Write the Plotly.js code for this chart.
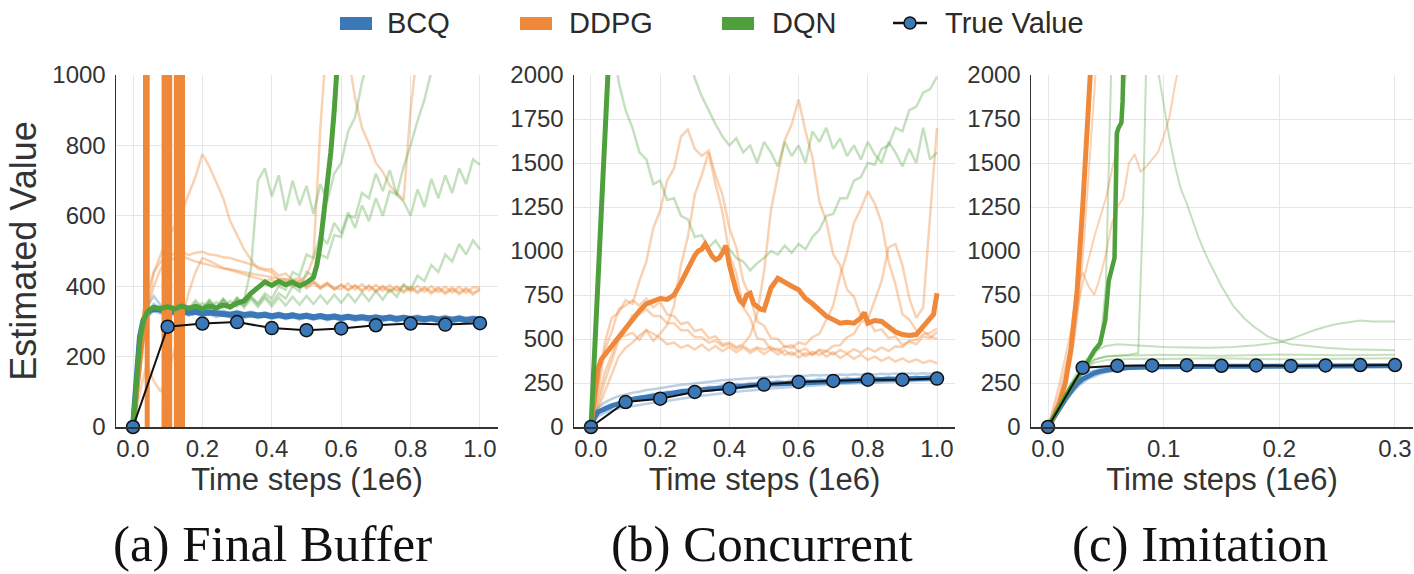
<!DOCTYPE html>
<html>
<head>
<meta charset="utf-8">
<script src="https://cdn.plot.ly/plotly-3.0.1.min.js"></script>
<style>html,body{margin:0;padding:0;background:#fff;}#chart{width:1414px;height:574px;}</style>
</head>
<body>
<div id="chart"></div>
<script>
// ---------------- DATA ----------------
const SERIES = ['BCQ', 'DDPG', 'DQN', 'True Value'];
const CAPTIONS = ['(a) Final Buffer', '(b) Concurrent', '(c) Imitation'];
const X_TITLE = 'Time steps (1e6)';
const Y_TITLE = 'Estimated Value';
const XTICKS_AB = [0, 0.2, 0.4, 0.6, 0.8, 1.0];
const XTICKTEXT_AB = ['0.0', '0.2', '0.4', '0.6', '0.8', '1.0'];
const XTICKS_C = [0, 0.1, 0.2, 0.3];
const XTICKTEXT_C = ['0.0', '0.1', '0.2', '0.3'];
const YTICKS_A = [0, 200, 400, 600, 800, 1000];
const YTICKS_BC = [0, 250, 500, 750, 1000, 1250, 1500, 1750, 2000];

// common time grid (1e6 steps)
const GX = [0,0.02,0.04,0.06,0.08,0.1,0.12,0.14,0.16,0.18,
  0.2,0.22,0.24,0.26,0.28,0.3,0.32,0.34,0.36,0.38,
  0.4,0.42,0.44,0.46,0.48,0.5,0.52,0.54,0.56,0.58,
  0.6,0.62,0.64,0.66,0.68,0.7,0.72,0.74,0.76,0.78,
  0.8,0.82,0.84,0.86,0.88,0.9,0.92,0.94,0.96,0.98,
  1.0];

// ===== (a) Final Buffer =====
const aTrueX = [0,0.1,0.2,0.3,0.4,0.5,0.6,0.7,0.8,0.9,1.0];
const aTrueY = [0,285,294,298,281,275,280,289,294,291,295];

const aBcqMeanX = [0,0.01,0.02,0.03,0.04,0.05,0.06,0.07,0.08,
  0.1,0.12,0.14,0.16,0.18,0.2,0.22,0.24,0.26,0.28,
  0.3,0.32,0.34,0.36,0.38,0.4,0.42,0.44,0.46,0.48,
  0.5,0.52,0.54,0.56,0.58,0.6,0.62,0.64,0.66,0.68,
  0.7,0.72,0.74,0.76,0.78,0.8,0.82,0.84,0.86,0.88,
  0.9,0.92,0.94,0.96,0.98,1.0];
const aBcqMeanY = [0,160,255,303,324,333,336,335,333,
  330,327,330,325,327,323,325,322,323,319,
  322,318,320,317,319,315,318,314,317,313,
  316,312,315,311,314,310,313,310,312,309,
  311,308,311,307,310,307,309,306,309,305,
  308,305,308,304,307,305];
const aBcqRun1 = [0,260,340,372,345,338,334,338,331,336,
  328,334,326,331,324,330,322,328,321,326,
  319,325,318,323,317,322,316,321,315,320,
  314,319,313,318,312,318,311,317,312,316,
  311,317,310,315,311,316,309,315,310,314,
  311];
const aBcqRun2 = [0,200,310,330,322,326,318,324,316,322,
  314,321,312,319,311,317,310,315,309,314,
  307,313,306,312,305,311,304,310,303,309,
  302,308,301,307,300,306,300,305,299,304,
  298,304,297,303,297,302,296,302,296,301,
  298];
const aBcqRun3 = [0,230,325,350,335,330,327,331,324,328,
  322,326,320,324,319,323,317,322,316,320,
  315,319,314,318,313,317,312,316,311,315,
  310,314,309,313,309,312,308,312,307,311,
  306,310,306,309,305,309,304,308,304,307,
  305];

const aDdpgMeanX = [0,0.01,0.02,0.03,0.036,0.038,0.04,0.042,
  0.088,0.091,0.093,0.095,0.097,0.099,0.101,0.103,0.105,0.1065,
  0.124,0.126,0.128,0.130,0.132,0.134,0.136,0.138,0.140,0.142,
  0.1435];
const aDdpgMeanY = [0,100,200,280,340,20000,20000,-20000,
  -20000,20000,-20000,20000,-20000,20000,-20000,20000,-20000,20000,
  20000,-20000,20000,-20000,20000,-20000,20000,-20000,20000,-20000,
  20000];
const aDdpgRun1 = [0,150,330,440,490,535,570,610,660,710,
  775,740,695,650,585,545,505,475,450,445,
  440,418,420,405,415,398,412,395,408,392,
  405,388,402,385,400,384,398,383,396,382,
  395,380,394,379,393,378,392,377,391,376,
  390];
const aDdpgRun2 = [0,200,380,440,470,485,492,500,488,495,
  498,490,488,482,480,475,468,462,455,448,
  448,430,436,418,424,405,416,398,410,394,
  392,408,390,406,388,404,387,403,386,402,
  385,401,384,400,383,399,382,398,381,397,
  396];
const aDdpgRun3 = [0,100,180,130,100,150,220,300,380,440,
  480,472,462,452,446,440,433,428,421,416,
  420,402,414,398,410,394,408,392,406,390,
  404,390,403,389,402,388,401,387,400,386,
  399,385,398,384,397,383,396,382,395,381,
  392];
const aDdpgRun4 = [0,180,330,400,450,470,480,485,478,470,
  465,460,455,450,448,445,440,436,432,428,
  425,422,420,418,415,430,480,850,1200,1400,
  1300,1060,935,850,805,750,725,685,665,645,
  900,1100,1250,1350,1500,1600,1700,1800,1900,2000,
  2100];

const aDqnMeanX = [0,0.01,0.02,0.03,0.04,0.05,0.06,0.08,
  0.1,0.12,0.14,0.16,0.18,0.2,0.22,0.24,0.26,0.28,
  0.3,0.32,0.34,0.36,0.38,0.4,0.42,0.44,0.46,0.48,0.5,
  0.52,0.53,0.54,0.55,0.56,0.57,0.58,0.59,0.6];
const aDqnMeanY = [0,150,250,300,325,335,340,336,
  342,335,344,337,343,336,344,338,347,341,
  352,358,380,396,412,402,414,404,412,401,410,
  425,460,520,600,680,780,900,1050,1200];
const aDqnRun1 = [0,220,320,338,342,340,344,338,343,340,
  352,336,355,340,358,342,360,450,700,735,
  655,715,615,700,630,685,605,690,640,720,
  750,840,880,980,1050,1150,1250,1350,1450,1550,
  1650,1700,1750,1800,1850,1900,1950,2000,2050,2100,
  2150];
const aDqnRun2 = [0,210,315,345,330,355,332,358,335,360,
  338,362,340,365,342,368,345,370,348,372,
  352,380,365,400,385,440,430,490,480,545,
  540,600,595,665,650,720,670,730,660,640,
  600,675,625,705,650,715,665,735,690,760,
  745];
const aDqnRun3 = [0,200,310,340,325,350,328,352,330,354,
  332,356,335,360,337,362,339,364,341,366,
  343,368,345,370,347,372,349,374,351,376,
  353,378,355,382,358,386,362,392,370,405,
  390,430,415,460,440,490,470,520,490,530,
  505];
const aDqnRun4 = [0,215,318,336,341,345,340,344,339,346,
  335,358,338,362,342,366,346,370,352,380,
  365,400,390,440,430,490,480,545,520,580,
  550,610,565,630,585,650,600,670,660,740,
  800,870,930,1010,1060,1100,1150,1200,1250,1300,
  1350];

// ===== (b) Concurrent =====
const bTrueX = [0,0.1,0.2,0.3,0.4,0.5,0.6,0.7,0.8,0.9,1.0];
const bTrueY = [0,142,161,199,218,241,256,262,269,269,275];

const bBcqMeanX = [0,0.01,0.02,0.04,0.06,0.08,
  0.1,0.12,0.14,0.16,0.18,0.2,0.22,0.24,0.26,0.28,
  0.3,0.32,0.34,0.36,0.38,0.4,0.42,0.44,0.46,0.48,
  0.5,0.52,0.54,0.56,0.58,0.6,0.62,0.64,0.66,0.68,
  0.7,0.72,0.74,0.76,0.78,0.8,0.82,0.84,0.86,0.88,
  0.9,0.92,0.94,0.96,0.98,1.0];
const bBcqMeanY = [0,55,85,105,120,132,
  150,158,165,172,178,185,190,195,200,204,
  208,212,216,219,222,226,229,232,235,238,
  241,243,246,248,250,252,254,256,258,260,
  262,263,265,266,267,268,269,270,271,272,
  273,274,275,276,277,279];
const bBcqRun1 = [0,110,140,160,175,185,195,200,210,215,
  222,228,232,240,243,248,252,258,260,265,
  268,272,275,278,280,282,286,284,290,288,
  292,290,295,293,296,294,298,296,300,297,
  302,299,303,300,304,301,305,302,306,303,
  305];
const bBcqRun2 = [0,60,80,95,105,112,118,125,130,138,
  142,150,155,160,168,172,178,183,188,192,
  196,200,204,207,212,214,218,221,224,228,
  230,233,236,238,240,243,244,246,248,250,
  251,253,254,256,257,258,260,261,262,264,
  265];
const bBcqRun3 = [0,90,115,130,140,155,160,172,175,188,
  190,200,198,212,210,220,218,230,226,238,
  234,245,240,250,246,256,252,262,256,266,
  260,270,264,274,267,276,270,279,272,281,
  275,283,277,284,279,285,280,287,282,288,
  284];

const bDdpgMeanX = [0,0.01,0.02,0.03,0.04,
  0.06,0.08,0.1,0.12,0.14,0.16,0.18,0.2,0.22,0.24,0.26,0.28,0.3,
  0.31,0.32,0.33,0.34,0.35,0.36,0.37,0.38,0.39,0.4,
  0.41,0.42,0.43,0.44,0.45,0.46,0.47,0.48,0.49,0.5,
  0.52,0.54,0.56,0.58,0.6,0.62,0.64,0.66,0.68,0.7,0.72,0.74,0.76,0.78,
  0.79,0.8,
  0.82,0.84,0.86,0.88,0.9,0.92,0.94,0.96,0.98,
  0.99,1.0];
const bDdpgMeanY = [0,200,330,385,410,
  470,510,560,620,660,700,715,730,725,750,820,900,975,
  1000,1010,1040,1000,970,950,960,990,1030,920,
  840,770,720,700,750,760,700,685,670,665,
  790,845,820,800,780,730,700,665,630,610,590,595,590,620,
  650,590,
  605,600,570,540,525,520,525,570,615,
  640,760];
const bDdpgRun1 = [0,250,480,620,650,720,700,830,940,1130,
  1230,1400,1470,1650,1690,1580,1540,1570,1430,1320,
  1130,1020,830,740,600,575,505,500,455,465,
  430,445,410,435,400,425,392,415,388,410,
  382,400,376,395,372,390,368,384,364,378,
  362];
const bDdpgRun2 = [0,200,440,540,670,690,720,690,730,680,
  710,640,630,585,595,545,555,505,515,470,
  480,455,470,520,640,880,1230,1420,1630,1720,
  1860,1680,1530,1280,1170,980,920,780,740,630,
  620,545,555,505,515,465,485,470,515,505,
  540];
const bDdpgRun3 = [0,150,310,410,510,520,535,495,550,490,
  530,580,690,920,1080,1320,1430,1560,1380,1220,
  980,870,680,620,505,495,440,445,410,425,
  395,420,410,440,430,460,465,510,530,595,
  610,720,830,1020,1040,920,730,620,680,1200,
  1700];
const bDdpgRun4 = [0,100,200,300,400,450,480,520,550,530,
  505,470,480,450,465,440,468,435,460,430,
  455,425,450,420,445,415,440,412,436,408,
  432,402,428,408,432,412,438,418,442,422,
  448,428,452,432,458,455,490,495,528,535,
  560];
const bDdpgRun5 = [0,120,260,370,490,550,635,640,670,630,
  630,590,590,550,550,510,510,480,490,460,
  470,445,460,435,452,440,455,432,458,450,
  480,470,510,530,610,690,860,990,1160,1240,
  1340,1270,1160,940,810,640,610,550,545,515,
  500];

const bDqnMeanX = [0,0.02,0.04,0.05,0.06];
const bDqnMeanY = [0,820,1640,2050,2460];
const bDqnRun1X = GX.slice(3);
const bDqnRun1 = [2300,1960,1800,1700,1560,1520,1380,1400,1290,1300,
  1200,1180,1080,1090,1020,1060,1000,1010,960,940,
  890,930,960,1000,980,1030,990,1040,1010,1080,
  1120,1200,1210,1300,1300,1400,1420,1500,1490,1580,
  1600,1700,1680,1800,1820,1900,1920,1990];
const bDqnRun2X = GX.slice(14);
const bDqnRun2 = [2150,1980,1880,1800,1720,1650,1600,1640,1560,1600,
  1500,1620,1560,1480,1620,1540,1600,1500,1680,1620,
  1700,1580,1640,1540,1600,1520,1620,1550,1500,1620,
  1560,1480,1580,1500,1700,1520,1560];

// ===== (c) Imitation =====
const cTrueX = [0,0.03,0.06,0.09,0.12,0.15,0.18,0.21,0.24,0.27,0.3];
const cTrueY = [0,337,348,350,351,348,350,347,350,352,352];

const cBcqX = [0,0.005,0.01,0.015,0.02,0.025,0.03,0.035,0.04,0.045,0.05,0.06,0.07,0.08,0.1,0.15,0.2,0.25,0.3];
const cBcqMean = [0,55,110,160,205,245,272,292,306,316,323,333,338,341,343,345,346,347,348];
const cBcqRun1 = [0,65,125,180,228,268,295,312,324,332,337,344,348,350,351,352,353,354,354];
const cBcqRun2 = [0,45,95,140,185,222,250,272,288,300,310,322,330,335,338,340,341,342,342];

const cDdpgMeanX = [0,0.005,0.01,0.015,0.02,0.025,0.03,0.035,0.04];
const cDdpgMeanY = [0,60,140,250,450,758,1250,1800,2400];
const cDdpgRun1X = [0,0.01,0.02,0.025,0.03,0.035,0.04,0.045];
const cDdpgRun1Y = [0,130,380,600,950,1400,1900,2400];
const cDdpgRun2X = [0,0.01,0.02,0.025,0.03,0.035,0.04,0.045,0.05,0.055,0.06,0.065,0.07,0.075,0.08,0.085,0.09,0.095,0.1,0.105,0.11,0.115];
const cDdpgRun2Y = [0,250,550,800,880,800,750,850,980,1150,1250,1300,1500,1550,1450,1480,1520,1560,1650,1760,1950,2100];
const cDdpgRun3X = [0,0.01,0.02,0.03,0.04,0.05,0.06,0.065,0.07];
const cDdpgRun3Y = [0,200,480,820,1080,1300,1600,1900,2150];

const cDqnMeanX = [0,0.01,0.02,0.03,0.035,0.04,0.045,0.0495,0.0525,0.0555,0.0575,0.0585,0.0595,0.061,0.0635,0.0645,0.066];
const cDqnMeanY = [0,110,230,320,375,435,475,607,830,900,960,1300,1670,1700,1730,1850,2300];
const cDqnRun1X = [0,0.01,0.02,0.03,0.04,0.05,0.06,0.07,
  0.078,0.082,0.085,0.088,0.092,0.096,
  0.1,0.105,0.11,0.115,0.12,0.125,0.13,0.135,0.14,
  0.15,0.16,0.17,0.18,0.19,0.2,0.21,0.22,
  0.24,0.26,0.28,0.3];
const cDqnRun1Y = [0,105,220,320,380,400,405,410,
  420,1200,2100,2500,2150,2000,
  1850,1640,1480,1350,1270,1170,1080,1000,930,
  800,690,615,560,515,490,470,462,
  450,442,438,436];
const cDqnRun2X = [0,0.01,0.02,0.03,0.04,0.045,0.05,0.053,0.056];
const cDqnRun2Y = [0,115,235,335,410,460,800,1600,2400];
const cDqnRun3X = [0,0.01,0.02,0.03,0.04,0.05,0.06,0.08,0.1,0.12,0.14,0.16,0.18,0.2,0.21,0.22,0.23,0.24,0.25,0.26,0.27,0.28,0.29,0.3];
const cDqnRun3Y = [0,120,250,360,430,460,470,462,455,452,450,455,465,480,500,525,550,570,585,595,605,600,598,600];
const cDqnRun45X = [0,0.01,0.02,0.03,0.04,0.05,0.06,0.08,0.1,0.15,0.2,0.25,0.3];
const cDqnRun4Y = [0,110,230,330,385,400,405,408,410,405,412,408,410];
const cDqnRun5Y = [0,105,220,315,365,380,385,388,386,390,385,388,390];

// ---------------- STYLE ----------------
const COL = {BCQ: '#3a78b8', DDPG: '#f0883a', DQN: '#4ea03c'};
const FAINT = {BCQ: 'rgba(58,120,184,0.35)', DDPG: 'rgba(240,136,58,0.38)', DQN: 'rgba(78,160,60,0.33)'};
const FONT = 'Liberation Sans, Arial, Helvetica, sans-serif';
const W = 1414, H = 574;

const traces = [];
function ln(ax, x, y, color, width) {
  traces.push({type: 'scatter', mode: 'lines', x: x, y: y,
    xaxis: 'x' + ax, yaxis: 'y' + ax,
    line: {color: color, width: width}, hoverinfo: 'skip', showlegend: false});
}
function truth(ax, x, y) {
  traces.push({type: 'scatter', mode: 'lines+markers', x: x, y: y, name: SERIES[3],
    xaxis: 'x' + ax, yaxis: 'y' + ax, cliponaxis: false,
    line: {color: '#111', width: 2},
    marker: {size: 13, color: COL.BCQ, line: {color: '#111', width: 1.5}},
    hoverinfo: 'skip', showlegend: false});
}

// panel a
[aBcqRun1, aBcqRun2, aBcqRun3].forEach(r => ln('', GX, r, FAINT.BCQ, 2.5));
[aDdpgRun1, aDdpgRun2, aDdpgRun3, aDdpgRun4].forEach(r => ln('', GX, r, FAINT.DDPG, 2.5));
[aDqnRun1, aDqnRun2, aDqnRun3, aDqnRun4].forEach(r => ln('', GX, r, FAINT.DQN, 2.5));
ln('', aBcqMeanX, aBcqMeanY, COL.BCQ, 6);
ln('', aDdpgMeanX, aDdpgMeanY, COL.DDPG, 5);
ln('', aDqnMeanX, aDqnMeanY, COL.DQN, 5);
truth('', aTrueX, aTrueY);

// panel b
[bBcqRun1, bBcqRun2, bBcqRun3].forEach(r => ln('2', GX, r, FAINT.BCQ, 2.5));
[bDdpgRun1, bDdpgRun2, bDdpgRun3, bDdpgRun4, bDdpgRun5].forEach(r => ln('2', GX, r, FAINT.DDPG, 2.5));
ln('2', bDqnRun1X, bDqnRun1, FAINT.DQN, 2.5);
ln('2', bDqnRun2X, bDqnRun2, FAINT.DQN, 2.5);
ln('2', bBcqMeanX, bBcqMeanY, COL.BCQ, 5);
ln('2', bDdpgMeanX, bDdpgMeanY, COL.DDPG, 5);
ln('2', bDqnMeanX, bDqnMeanY, COL.DQN, 5);
truth('2', bTrueX, bTrueY);

// panel c
[cBcqRun1, cBcqRun2].forEach(r => ln('3', cBcqX, r, FAINT.BCQ, 2));
ln('3', cDdpgRun1X, cDdpgRun1Y, FAINT.DDPG, 2);
ln('3', cDdpgRun2X, cDdpgRun2Y, FAINT.DDPG, 2);
ln('3', cDdpgRun3X, cDdpgRun3Y, FAINT.DDPG, 2);
ln('3', cDqnRun1X, cDqnRun1Y, FAINT.DQN, 2);
ln('3', cDqnRun2X, cDqnRun2Y, FAINT.DQN, 2);
ln('3', cDqnRun3X, cDqnRun3Y, FAINT.DQN, 2);
ln('3', cDqnRun45X, cDqnRun4Y, FAINT.DQN, 2);
ln('3', cDqnRun45X, cDqnRun5Y, FAINT.DQN, 2);
ln('3', cBcqX, cBcqMean, COL.BCQ, 5);
ln('3', cDdpgMeanX, cDdpgMeanY, COL.DDPG, 5);
ln('3', cDqnMeanX, cDqnMeanY, COL.DQN, 4.5);
truth('3', cTrueX, cTrueY);

// ---------------- LAYOUT ----------------
const px = v => v / W;
const py = v => 1 - v / H;
const yDom = [py(427), py(75)];
function xax(dom, range, tv, tt, anchor) {
  return {domain: dom, range: range, anchor: anchor, tickmode: 'array', tickvals: tv, ticktext: tt,
    showgrid: true, gridcolor: '#e6e6e6', gridwidth: 1, zeroline: false,
    showline: true, linecolor: '#333', linewidth: 1.5, ticks: '',
    tickfont: {family: FONT, size: 24, color: '#333'},
    title: {text: X_TITLE, font: {family: FONT, size: 31, color: '#333'}, standoff: 0}};
}
function yax(range, tv, anchor, withTitle) {
  const o = {domain: yDom, range: range, anchor: anchor, tickmode: 'array', tickvals: tv,
    showgrid: true, gridcolor: '#e6e6e6', gridwidth: 1, zeroline: false,
    showline: true, linecolor: '#333', linewidth: 1.5, ticks: '', ticklabelstandoff: 4,
    tickfont: {family: FONT, size: 24, color: '#333'}};
  if (withTitle) o.title = {text: Y_TITLE, font: {family: FONT, size: 36, color: '#333'}, standoff: 4};
  return o;
}

const shapes = [];
const annotations = [];
// legend (drawn in page coordinates)
const legendItems = [
  {name: SERIES[0], color: COL.BCQ, x0: 340, tx: 385},
  {name: SERIES[1], color: COL.DDPG, x0: 520, tx: 567},
  {name: SERIES[2], color: COL.DQN, x0: 722, tx: 770}
];
legendItems.forEach(it => {
  shapes.push({type: 'rect', xref: 'paper', yref: 'paper', x0: px(it.x0), x1: px(it.x0 + 32),
    y0: py(30), y1: py(17), fillcolor: it.color, line: {width: 0}});
  annotations.push({xref: 'paper', yref: 'paper', x: px(it.tx), y: py(23), xanchor: 'left', yanchor: 'middle',
    text: it.name, showarrow: false, font: {family: FONT, size: 29, color: '#2b2b2b'}});
});
shapes.push({type: 'line', xref: 'paper', yref: 'paper', x0: px(893), x1: px(927), y0: py(23), y1: py(23),
  line: {color: '#111', width: 2.5}});
shapes.push({type: 'circle', xref: 'paper', yref: 'paper', x0: px(904), x1: px(916), y0: py(29), y1: py(17),
  fillcolor: COL.BCQ, line: {color: '#111', width: 1.5}});
annotations.push({xref: 'paper', yref: 'paper', x: px(943), y: py(23), xanchor: 'left', yanchor: 'middle',
  text: SERIES[3], showarrow: false, font: {family: FONT, size: 29, color: '#2b2b2b'}});
// captions
[[CAPTIONS[0], 272], [CAPTIONS[1], 762], [CAPTIONS[2], 1200]].forEach(c => {
  annotations.push({xref: 'paper', yref: 'paper', x: px(c[1]), y: py(544), xanchor: 'center', yanchor: 'middle',
    text: c[0], showarrow: false, font: {family: 'Liberation Serif, Times New Roman, serif', size: 51, color: '#111'}});
});

const layout = {
  width: W, height: H, margin: {l: 0, r: 0, t: 0, b: 0},
  paper_bgcolor: '#fff', plot_bgcolor: '#fff', showlegend: false,
  xaxis: xax([px(116), px(498)], [-0.049, 1.052], XTICKS_AB, XTICKTEXT_AB, 'y'),
  yaxis: yax([0, 1000], YTICKS_A, 'x', true),
  xaxis2: xax([px(574), px(955)], [-0.0491, 1.052], XTICKS_AB, XTICKTEXT_AB, 'y2'),
  yaxis2: yax([0, 2000], YTICKS_BC, 'x2', false),
  xaxis3: xax([px(1031), px(1413)], [-0.0147, 0.3156], XTICKS_C, XTICKTEXT_C, 'y3'),
  yaxis3: yax([0, 2000], YTICKS_BC, 'x3', false),
  shapes: shapes, annotations: annotations
};

Plotly.newPlot('chart', traces, layout, {staticPlot: true, displayModeBar: false});
</script>
</body>
</html>
